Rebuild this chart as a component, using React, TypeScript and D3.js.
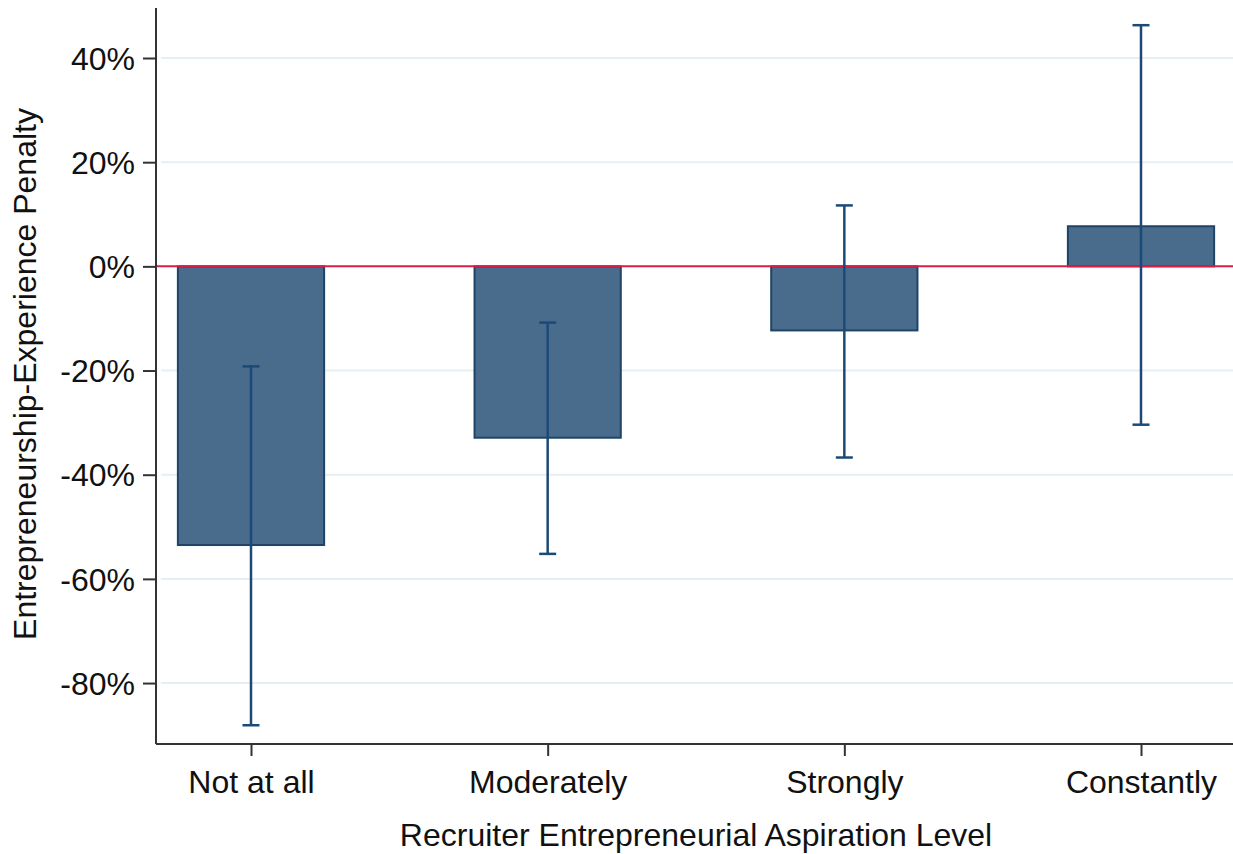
import React, { useEffect, useRef } from 'react';
import * as d3 from 'd3';

const categories = ['Not at all', 'Moderately', 'Strongly', 'Constantly'];
const estimates = [-53.5, -32.9, -12.3, 7.7];
const ciLower = [-88.1, -55.2, -36.7, -30.4];
const ciUpper = [-19.2, -10.8, 11.7, 46.3];
const yTicks = [-80, -60, -40, -20, 0, 20, 40];

const W = 1233;
const H = 854;

const App = () => {
  const svgRef = useRef<SVGSVGElement | null>(null);

  useEffect(() => {
    if (!svgRef.current) return;
    const svg = d3.select(svgRef.current);
    svg.selectAll('*').remove();

    const left = 156;
    const top = 8;
    const bottom = 744;
    const right = W;

    const y = d3.scaleLinear().domain([-91.7, 49.6]).range([bottom, top]);
    const x = d3.scalePoint<string>().domain(categories).range([251, 1141]);
    const barW = x.step() * 0.493;
    const font = 'Liberation Sans, Arial, sans-serif';
    const fs = 32;

    // grid lines
    svg.append('g')
      .selectAll('line')
      .data(yTicks.filter(t => t !== 0))
      .enter()
      .append('line')
      .attr('x1', left + 5)
      .attr('x2', right)
      .attr('y1', d => y(d))
      .attr('y2', d => y(d))
      .attr('stroke', '#e6eff3')
      .attr('stroke-width', 2);

    // bars
    svg.append('g')
      .selectAll('rect')
      .data(categories)
      .enter()
      .append('rect')
      .attr('x', d => (x(d) as number) - barW / 2)
      .attr('width', barW)
      .attr('y', (d, i) => Math.min(y(0), y(estimates[i])))
      .attr('height', (d, i) => Math.abs(y(estimates[i]) - y(0)))
      .attr('fill', '#496b8c')
      .attr('stroke', '#1f4467')
      .attr('stroke-width', 2);

    // zero line
    svg.append('line')
      .attr('x1', left)
      .attr('x2', right)
      .attr('y1', y(0))
      .attr('y2', y(0))
      .attr('stroke', '#d81e48')
      .attr('stroke-width', 2);

    // error bars
    const eb = svg.append('g')
      .attr('stroke', '#1c4a78')
      .attr('stroke-width', 2.5);
    categories.forEach((c, i) => {
      const cx = x(c) as number;
      eb.append('line')
        .attr('x1', cx).attr('x2', cx)
        .attr('y1', y(ciLower[i])).attr('y2', y(ciUpper[i]));
      [ciLower[i], ciUpper[i]].forEach(v => {
        eb.append('line')
          .attr('x1', cx - 8.5).attr('x2', cx + 8.5)
          .attr('y1', y(v)).attr('y2', y(v));
      });
    });

    // y axis
    const yAxis = svg.append('g')
      .attr('transform', `translate(${left},0)`)
      .call(d3.axisLeft(y).tickValues(yTicks).tickSize(13).tickPadding(8).tickFormat(d => `${d}%`));
    yAxis.select('.domain').attr('d', `M0,${top}V${bottom}`).attr('stroke', '#333').attr('stroke-width', 2);
    yAxis.selectAll('.tick line').attr('stroke', '#333').attr('stroke-width', 2);
    yAxis.selectAll('.tick text')
      .attr('font-family', font)
      .attr('font-size', fs)
      .attr('fill', '#111')
      .attr('dy', '0.35em');

    // x axis
    const xAxis = svg.append('g')
      .attr('transform', `translate(0,${bottom})`)
      .call(d3.axisBottom(x).tickSize(12).tickPadding(14));
    xAxis.select('.domain').attr('d', `M${left},0H${right}`).attr('stroke', '#333').attr('stroke-width', 2);
    xAxis.selectAll('.tick line').attr('stroke', '#333').attr('stroke-width', 2);
    xAxis.selectAll('.tick text')
      .attr('font-family', font)
      .attr('font-size', fs)
      .attr('fill', '#111');

    // axis titles
    svg.append('text')
      .attr('x', 696)
      .attr('y', 846)
      .attr('text-anchor', 'middle')
      .attr('font-family', font)
      .attr('font-size', fs)
      .attr('fill', '#111')
      .text('Recruiter Entrepreneurial Aspiration Level');

    svg.append('text')
      .attr('transform', `translate(36,374) rotate(-90)`)
      .attr('text-anchor', 'middle')
      .attr('font-family', font)
      .attr('font-size', fs)
      .attr('fill', '#111')
      .text('Entrepreneurship-Experience Penalty');
  }, []);

  return (
    <svg
      ref={svgRef}
      width={W}
      height={H}
      style={{ position: 'absolute', left: 0, top: 0, background: '#fff' }}
    />
  );
};

export default App;
